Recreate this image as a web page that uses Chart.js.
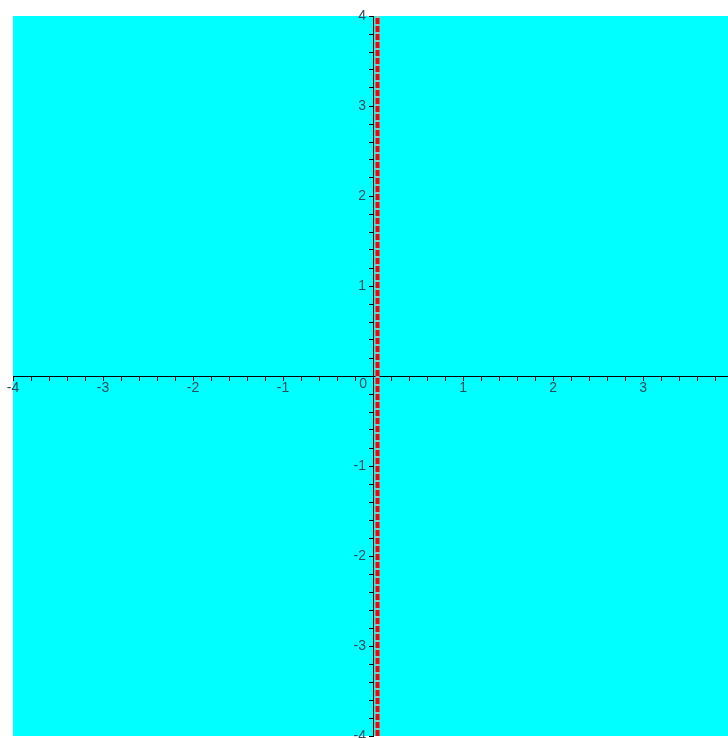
<!DOCTYPE html>
<html>
<head>
<meta charset="utf-8">
<script src="https://cdn.jsdelivr.net/npm/chart.js@4/dist/chart.umd.min.js"></script>
<style>
  body { margin: 0; background: #fff; }
  canvas { display: block; }
</style>
</head>
<body>
<canvas id="plot" width="728" height="738"></canvas>
<script>
// data for the plot
const xRange = [-4, 3.944];
const yRange = [-4, 4];
const xTickLabels = ['-4', '-3', '-2', '-1', '0', '1', '2', '3'];
const yTickLabels = ['-4', '-3', '-2', '-1', '0', '1', '2', '3', '4'];
const boundaryX = [0.05, 0.05];
const boundaryY = [-4, 4];

const minorStep = 0.2;
const textColor = '#2b4b5b';
const fontFamily = '"Liberation Sans", Arial, sans-serif';

function buildTicks(min, max) {
    const ticks = [];
    const n = Math.floor((max - min) / minorStep + 1e-6);
    for (let i = 0; i <= n; i++) {
        ticks.push({ value: +(min + i * minorStep).toFixed(2) });
    }
    return ticks;
}

function labelFor(labels) {
    return function(value) {
        if (Math.abs(value - Math.round(value)) > 1e-6) return '';
        if (Math.round(value) === 0) return '';
        const s = String(Math.round(value));
        return labels.includes(s) ? s : '';
    };
}

// labels may hang over the edge, like in the original
function noOverflow(scale) {
    scale.paddingTop = 0;
    scale.paddingBottom = 0;
    scale.paddingLeft = 0;
    scale.paddingRight = 0;
}

const boundaryPts = boundaryX.map((x, i) => ({ x: x, y: boundaryY[i] }));

// cyan region behind, y labels (left of the centred axis) and the "0"
const regionPlugin = {
    id: 'region',
    beforeDraw(chart) {
        const { ctx, chartArea } = chart;
        ctx.save();
        ctx.fillStyle = '#00ffff';
        ctx.fillRect(chartArea.left, chartArea.top,
            chartArea.right - chartArea.left, chartArea.bottom - chartArea.top);
        ctx.restore();
    },
    afterDraw(chart) {
        const { ctx, scales } = chart;
        const ox = scales.x.getPixelForValue(0);
        const oy = scales.y.getPixelForValue(0);
        ctx.save();
        ctx.fillStyle = textColor;
        ctx.font = '14px ' + fontFamily;
        ctx.textBaseline = 'middle';
        ctx.textAlign = 'right';
        yTickLabels.forEach(lab => {
            if (lab === '0') return;
            ctx.fillText(lab, ox - 7, scales.y.getPixelForValue(Number(lab)));
        });
        ctx.textAlign = 'center';
        ctx.fillText(xTickLabels[4], ox - 10, oy + 8);
        ctx.restore();
    }
};

new Chart(document.getElementById('plot'), {
    type: 'scatter',
    data: {
        datasets: [{
            data: boundaryPts,
            showLine: true,
            borderColor: '#ff0000',
            borderWidth: 4,
            borderDash: [6, 2],
            pointRadius: 0,
            order: 1
        }, {
            data: boundaryPts,
            showLine: true,
            borderColor: '#a8bcbc',
            borderWidth: 4,
            pointRadius: 0,
            order: 2
        }]
    },
    options: {
        responsive: false,
        animation: false,
        layout: { autoPadding: false, padding: { left: 13, top: 16, right: 0, bottom: 2 } },
        plugins: {
            legend: { display: false },
            tooltip: { enabled: false }
        },
        scales: {
            x: {
                type: 'linear',
                min: xRange[0],
                max: xRange[1],
                position: { y: 0 },
                afterBuildTicks: scale => { scale.ticks = buildTicks(xRange[0], xRange[1]); },
                afterFit: noOverflow,
                grid: { drawOnChartArea: false, drawTicks: true, tickLength: 4, tickColor: '#000' },
                border: { display: true, color: '#000', width: 1 },
                ticks: {
                    autoSkip: false,
                    maxRotation: 0,
                    padding: 0,
                    color: textColor,
                    font: { family: fontFamily, size: 14 },
                    callback: labelFor(xTickLabels)
                }
            },
            y: {
                type: 'linear',
                min: yRange[0],
                max: yRange[1],
                position: { x: 0 },
                afterBuildTicks: scale => { scale.ticks = buildTicks(yRange[0], yRange[1]); },
                afterFit: noOverflow,
                grid: { drawOnChartArea: false, drawTicks: true, tickLength: 4, tickColor: '#000' },
                border: { display: true, color: '#000', width: 1 },
                ticks: { display: false }
            }
        }
    },
    plugins: [regionPlugin]
});
</script>
</body>
</html>
